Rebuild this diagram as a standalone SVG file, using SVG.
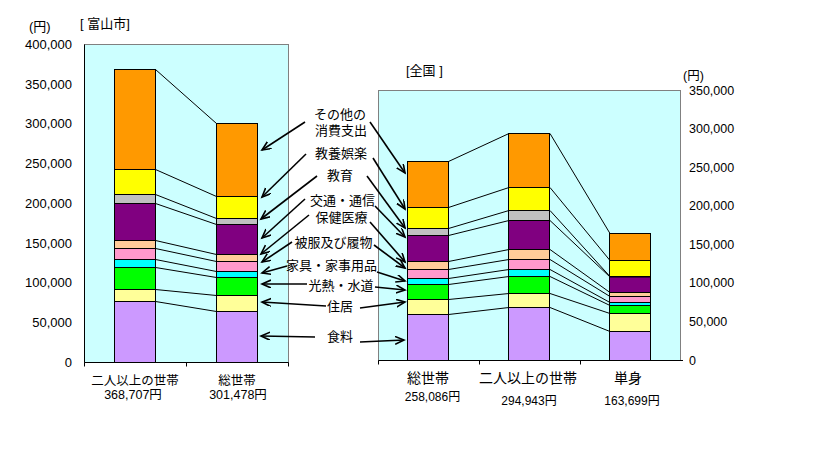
<svg xmlns="http://www.w3.org/2000/svg" width="819" height="458" viewBox="0 0 819 458">
<defs>
<style>
text{font-family:"Liberation Sans","Noto Sans CJK JP",sans-serif;fill:#000}
.ax{font-size:13px}
.axr{font-size:12.5px}
.lb{font-size:13px}
.cat{font-size:12.5px}
.catr{font-size:14px}
.valr{font-size:12px}
.plot{fill:#CCFFFF;stroke:#808080;stroke-width:1}
.axis{stroke:#000;stroke-width:1;fill:none}
.seg{stroke:#000;stroke-width:1}
.sl{stroke:#000;stroke-width:1;fill:none}
.ar{stroke:#000;stroke-width:1.6;fill:none;marker-end:url(#ah)}
.c1{fill:#FF9900}.c2{fill:#FFFF00}.c3{fill:#C0C0C0}.c4{fill:#800080}.c5{fill:#FFCC99}
.c6{fill:#FF99CC}.c7{fill:#00FFFF}.c8{fill:#00FF00}.c9{fill:#FFFF99}.c10{fill:#CC99FF}
</style>
<marker id="ah" markerUnits="userSpaceOnUse" markerWidth="12" markerHeight="10" refX="9" refY="4" orient="auto">
<path d="M0,0 L9,4 L0,8" fill="none" stroke="#000" stroke-width="1.6"/>
</marker>
</defs>
<rect width="819" height="458" fill="#fff"/>

<g id="chart-toyama">
<rect class="plot" x="84.5" y="44.5" width="204" height="318"/>
<path class="axis" d="M84.5,44.5 V362.5 H288.5 M84.5,362.5 V366.5 M186.5,362.5 V366.5 M288.5,362.5 V366.5"/>
<g class="ax" text-anchor="end">
<text x="72" y="49">400,000</text>
<text x="72" y="88.5">350,000</text>
<text x="72" y="128">300,000</text>
<text x="72" y="168">250,000</text>
<text x="72" y="207.5">200,000</text>
<text x="72" y="247.5">150,000</text>
<text x="72" y="287">100,000</text>
<text x="72" y="327">50,000</text>
<text x="72" y="366.5">0</text>
</g>
<text class="ax" x="29" y="31">(円)</text>
<text class="ax" x="80" y="27.5">[ 富山市]</text>
<text class="cat" x="135" y="384.5" text-anchor="middle">二人以上の世帯</text>
<text class="cat" x="133" y="399" text-anchor="middle">368,707円</text>
<text class="cat" x="237" y="384.5" text-anchor="middle">総世帯</text>
<text class="cat" x="238" y="399" text-anchor="middle">301,478円</text>
</g>

<g id="chart-zenkoku">
<rect class="plot" x="378.5" y="90.5" width="302" height="270"/>
<path class="axis" d="M378.5,360.5 H683 M479.5,360.5 V364.5 M580.5,360.5 V364.5 M378.5,360.5 V364.5"/>
<g class="axr">
<text x="689" y="94.5">350,000</text>
<text x="689" y="133">300,000</text>
<text x="689" y="171.5">250,000</text>
<text x="689" y="210">200,000</text>
<text x="689" y="248.5">150,000</text>
<text x="689" y="287">100,000</text>
<text x="689" y="325.5">50,000</text>
<text x="689" y="364.5">0</text>
</g>
<text class="axr" x="683" y="79.5">(円)</text>
<text class="ax" x="406" y="74.5">[全国 ]</text>
<text class="catr" x="428" y="383" text-anchor="middle">総世帯</text>
<text class="valr" x="432.5" y="401" text-anchor="middle">258,086円</text>
<text class="catr" x="528" y="383" text-anchor="middle">二人以上の世帯</text>
<text class="valr" x="529" y="405" text-anchor="middle">294,943円</text>
<text class="catr" x="628" y="383" text-anchor="middle">単身</text>
<text class="valr" x="632" y="405" text-anchor="middle">163,699円</text>
</g>

<g id="connectors">
<g id="series-lines-toyama">
<path class="sl" d="M155.5,69.5 L216.5,123.5 M155.5,169.5 L216.5,196.5 M155.5,194.5 L216.5,218.5 M155.5,203.5 L216.5,224.5 M155.5,240.5 L216.5,254.5 M155.5,248.5 L216.5,261.5 M155.5,259.5 L216.5,271.5 M155.5,267.5 L216.5,277.5 M155.5,289.5 L216.5,295.5 M155.5,301.5 L216.5,311.5"/>
</g>
<g id="series-lines-zenkoku">
<path class="sl" d="M448.5,161.5 L509,133.5 M448.5,207.5 L509,187.5 M448.5,228.5 L509,210.5 M448.5,235.5 L509,220.5 M448.5,261.5 L509,249.5 M448.5,269.5 L509,259.5 M448.5,278.5 L509,269.5 M448.5,284.5 L509,276.5 M448.5,299.5 L509,293.5 M448.5,314.5 L509,307.5"/>
<path class="sl" d="M550,133.5 L610,233.5 M550,187.5 L610,260.5 M550,210.5 L610,276.5 M550,220.5 L610,277 M550,249.5 L610,292.5 M550,259.5 L610,296.5 M550,269.5 L610,302.5 M550,276.5 L610,305.5 M550,293.5 L610,313.5 M550,307.5 L610,331.5"/>
</g>
<g id="arrows-left">
<line class="ar" x1="305" y1="122" x2="262" y2="150"/>
<line class="ar" x1="306" y1="154" x2="262" y2="197"/>
<line class="ar" x1="317" y1="176" x2="261" y2="219"/>
<line class="ar" x1="305" y1="199" x2="262" y2="238"/>
<line class="ar" x1="309" y1="215" x2="261" y2="254"/>
<line class="ar" x1="292" y1="242" x2="262" y2="262"/>
<line class="ar" x1="287" y1="266" x2="262" y2="273"/>
<line class="ar" x1="307" y1="284" x2="262" y2="284"/>
<line class="ar" x1="326" y1="306" x2="262" y2="302"/>
<line class="ar" x1="315" y1="337" x2="261" y2="336"/>
</g>
<g id="arrows-right">
<line class="ar" x1="370" y1="122" x2="405" y2="173"/>
<line class="ar" x1="373" y1="158" x2="405" y2="209"/>
<line class="ar" x1="367" y1="176" x2="405" y2="228"/>
<line class="ar" x1="375" y1="206" x2="405" y2="237"/>
<line class="ar" x1="370" y1="222" x2="405" y2="262"/>
<line class="ar" x1="374" y1="245" x2="405" y2="268"/>
<line class="ar" x1="377" y1="272" x2="405" y2="281"/>
<line class="ar" x1="375" y1="287" x2="405" y2="290"/>
<line class="ar" x1="360" y1="308" x2="405" y2="302"/>
<line class="ar" x1="360" y1="342" x2="404" y2="340"/>
</g>
</g>

<g id="bar-toyama-futari">
<rect class="seg c1" x="114.5" y="69.5" width="41" height="100"/>
<rect class="seg c2" x="114.5" y="169.5" width="41" height="25"/>
<rect class="seg c3" x="114.5" y="194.5" width="41" height="9"/>
<rect class="seg c4" x="114.5" y="203.5" width="41" height="37"/>
<rect class="seg c5" x="114.5" y="240.5" width="41" height="8"/>
<rect class="seg c6" x="114.5" y="248.5" width="41" height="11"/>
<rect class="seg c7" x="114.5" y="259.5" width="41" height="8"/>
<rect class="seg c8" x="114.5" y="267.5" width="41" height="22"/>
<rect class="seg c9" x="114.5" y="289.5" width="41" height="12"/>
<rect class="seg c10" x="114.5" y="301.5" width="41" height="61"/>
</g>
<g id="bar-toyama-sou">
<rect class="seg c1" x="216.5" y="123.5" width="41" height="73"/>
<rect class="seg c2" x="216.5" y="196.5" width="41" height="22"/>
<rect class="seg c3" x="216.5" y="218.5" width="41" height="6"/>
<rect class="seg c4" x="216.5" y="224.5" width="41" height="30"/>
<rect class="seg c5" x="216.5" y="254.5" width="41" height="7"/>
<rect class="seg c6" x="216.5" y="261.5" width="41" height="10"/>
<rect class="seg c7" x="216.5" y="271.5" width="41" height="6"/>
<rect class="seg c8" x="216.5" y="277.5" width="41" height="18"/>
<rect class="seg c9" x="216.5" y="295.5" width="41" height="16"/>
<rect class="seg c10" x="216.5" y="311.5" width="41" height="51"/>
</g>
<g id="bar-zenkoku-sou">
<rect class="seg c1" x="407.5" y="161.5" width="41" height="46"/>
<rect class="seg c2" x="407.5" y="207.5" width="41" height="21"/>
<rect class="seg c3" x="407.5" y="228.5" width="41" height="7"/>
<rect class="seg c4" x="407.5" y="235.5" width="41" height="26"/>
<rect class="seg c5" x="407.5" y="261.5" width="41" height="8"/>
<rect class="seg c6" x="407.5" y="269.5" width="41" height="9"/>
<rect class="seg c7" x="407.5" y="278.5" width="41" height="6"/>
<rect class="seg c8" x="407.5" y="284.5" width="41" height="15"/>
<rect class="seg c9" x="407.5" y="299.5" width="41" height="15"/>
<rect class="seg c10" x="407.5" y="314.5" width="41" height="46"/>
</g>
<g id="bar-zenkoku-futari">
<rect class="seg c1" x="508.5" y="133.5" width="41" height="54"/>
<rect class="seg c2" x="508.5" y="187.5" width="41" height="23"/>
<rect class="seg c3" x="508.5" y="210.5" width="41" height="10"/>
<rect class="seg c4" x="508.5" y="220.5" width="41" height="29"/>
<rect class="seg c5" x="508.5" y="249.5" width="41" height="10"/>
<rect class="seg c6" x="508.5" y="259.5" width="41" height="10"/>
<rect class="seg c7" x="508.5" y="269.5" width="41" height="7"/>
<rect class="seg c8" x="508.5" y="276.5" width="41" height="17"/>
<rect class="seg c9" x="508.5" y="293.5" width="41" height="14"/>
<rect class="seg c10" x="508.5" y="307.5" width="41" height="53"/>
</g>
<g id="bar-zenkoku-tanshin">
<rect class="seg c1" x="609.5" y="233.5" width="41" height="27"/>
<rect class="seg c2" x="609.5" y="260.5" width="41" height="16"/>
<rect class="seg c3" x="609.5" y="276.5" width="41" height="0.5"/>
<rect class="seg c4" x="609.5" y="277" width="41" height="15.5"/>
<rect class="seg c5" x="609.5" y="292.5" width="41" height="4"/>
<rect class="seg c6" x="609.5" y="296.5" width="41" height="6"/>
<rect class="seg c7" x="609.5" y="302.5" width="41" height="3"/>
<rect class="seg c8" x="609.5" y="305.5" width="41" height="8"/>
<rect class="seg c9" x="609.5" y="313.5" width="41" height="18"/>
<rect class="seg c10" x="609.5" y="331.5" width="41" height="29"/>
</g>

<g id="label-sonota"><text class="lb" x="340" y="118.5" text-anchor="middle">その他の</text><text class="lb" x="341" y="135" text-anchor="middle">消費支出</text></g>
<g id="label-kyouyou"><text class="lb" x="341" y="158" text-anchor="middle">教養娯楽</text></g>
<g id="label-kyouiku"><text class="lb" x="340" y="180" text-anchor="middle">教育</text></g>
<g id="label-koutsu"><text class="lb" x="342.5" y="204.5" text-anchor="middle">交通・通信</text></g>
<g id="label-hoken"><text class="lb" x="341.5" y="222" text-anchor="middle">保健医療</text></g>
<g id="label-hifuku"><text class="lb" x="333.5" y="247" text-anchor="middle">被服及び履物</text></g>
<g id="label-kagu"><text class="lb" x="331.5" y="269.5" text-anchor="middle">家具・家事用品</text></g>
<g id="label-kounetsu"><text class="lb" x="341" y="289.5" text-anchor="middle">光熱・水道</text></g>
<g id="label-jukyo"><text class="lb" x="340" y="311" text-anchor="middle">住居</text></g>
<g id="label-shokuryou"><text class="lb" x="340" y="341" text-anchor="middle">食料</text></g>
</svg>
